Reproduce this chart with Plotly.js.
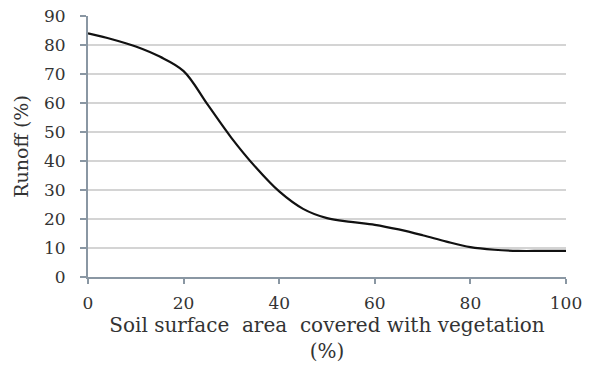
<!DOCTYPE html>
<html>
<head>
<meta charset="utf-8">
<script src="https://cdn.plot.ly/plotly-3.0.1.min.js"></script>
<style>html,body{margin:0;padding:0;background:#fff;}#chart{width:589px;height:366px;}</style>
</head>
<body>
<div id="chart"></div>
<script>
const coverage = [0, 5, 10, 15, 20, 25, 30, 35, 40, 45, 50, 55, 60, 65, 70, 75, 80, 85, 90, 95, 100];
const runoff = [84, 82, 79.5, 76, 71, 59.5, 48, 38, 29.5, 23.5, 20.3, 19, 18, 16.4, 14.4, 12.2, 10.3, 9.4, 9, 9, 9];
const xTicks = [0, 20, 40, 60, 80, 100];
const yTicks = [0, 10, 20, 30, 40, 50, 60, 70, 80, 90];

const axisColor = '#8a97a3';
const fontFam = 'DejaVu Serif, Liberation Serif, serif';
const textColor = '#333333';

Plotly.newPlot('chart', [{
  x: coverage,
  y: runoff,
  type: 'scatter',
  mode: 'lines',
  line: {color: '#111111', width: 2.2, shape: 'spline', smoothing: 1},
  hoverinfo: 'skip'
}], {
  width: 589,
  height: 366,
  margin: {l: 88, r: 23, t: 16, b: 89},
  paper_bgcolor: '#ffffff',
  plot_bgcolor: '#ffffff',
  showlegend: false,
  font: {family: fontFam, color: textColor, size: 17},
  xaxis: {
    range: [0, 100],
    tickvals: xTicks,
    ticktext: xTicks.map(String),
    showgrid: false,
    zeroline: false,
    showline: true,
    linecolor: axisColor,
    linewidth: 2,
    ticks: 'outside',
    ticklen: 5,
    tickwidth: 2,
    tickcolor: axisColor,
    ticklabelstandoff: 5,
    tickfont: {family: fontFam, size: 17, color: textColor},
    title: {text: 'Soil surface\u00a0 area\u00a0 covered with vegetation<br>(%)', font: {family: fontFam, size: 20, color: textColor}, standoff: 6}
  },
  yaxis: {
    range: [0, 90],
    tickvals: yTicks,
    ticktext: yTicks.map(String),
    showgrid: true,
    gridcolor: '#d4d4d4',
    gridwidth: 1.5,
    zeroline: false,
    showline: true,
    linecolor: axisColor,
    linewidth: 2,
    ticks: 'outside',
    ticklen: 6,
    tickwidth: 2,
    tickcolor: axisColor,
    ticklabelstandoff: 11,
    tickfont: {family: fontFam, size: 17, color: textColor},
    title: {text: 'Runoff (%)', font: {family: fontFam, size: 19, color: textColor}, standoff: 10}
  }
}, {displayModeBar: false, staticPlot: true});
</script>
</body>
</html>
